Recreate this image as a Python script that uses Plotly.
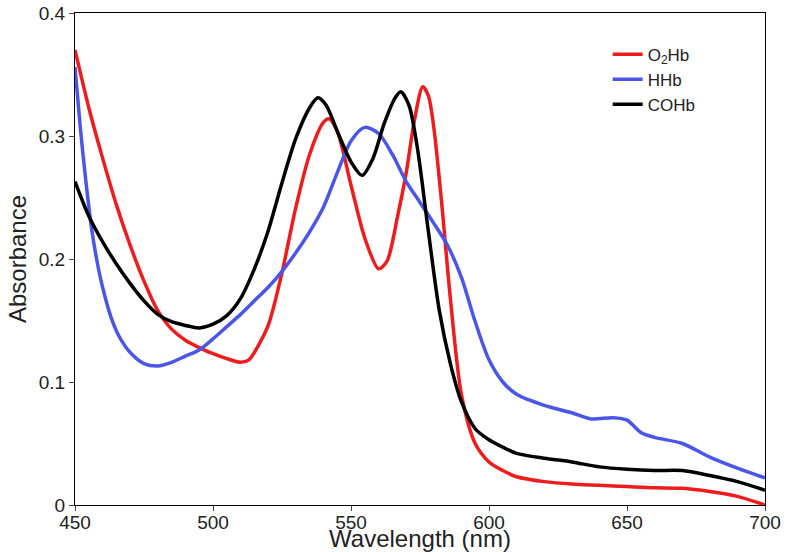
import plotly.graph_objects as go

# O2Hb
wl_o2 = [450, 455, 460, 465, 470, 475, 480, 485, 490, 495, 500, 505, 510, 513, 516, 520, 525,
         530, 535, 540, 542, 545, 550, 555, 560, 563, 567, 570, 573, 576, 578, 580, 583,
         586, 590, 595, 600, 605, 610, 620, 630, 640, 650, 660, 670, 680, 690, 700]
abs_o2 = [0.370, 0.323, 0.282, 0.244, 0.211, 0.182, 0.158, 0.143, 0.134, 0.128, 0.123, 0.119,
          0.116, 0.118, 0.128, 0.146, 0.189, 0.242, 0.285, 0.311, 0.314, 0.304, 0.260, 0.217,
          0.192, 0.198, 0.236, 0.270, 0.313, 0.340, 0.333, 0.307, 0.242, 0.168, 0.090, 0.050,
          0.035, 0.028, 0.023, 0.019, 0.017, 0.016, 0.015, 0.014, 0.0136, 0.011, 0.007, 0.000]

# HHb
wl_h = [450, 452, 454, 456, 458, 460, 463, 466, 470, 475, 480, 485, 490, 495, 500, 505, 510,
        515, 520, 525, 530, 535, 540, 545, 550, 555, 560, 565, 570, 575, 580, 585, 590, 595,
        600, 605, 610, 620, 630, 637, 645, 650, 655, 660, 670, 680, 690, 700]
abs_h = [0.356, 0.305, 0.262, 0.225, 0.198, 0.177, 0.153, 0.137, 0.124, 0.115, 0.113, 0.116,
         0.121, 0.126, 0.135, 0.145, 0.155, 0.166, 0.177, 0.190, 0.205, 0.222, 0.242, 0.270,
         0.296, 0.307, 0.302, 0.285, 0.263, 0.246, 0.229, 0.211, 0.185, 0.149, 0.118, 0.100,
         0.090, 0.081, 0.075, 0.070, 0.071, 0.069, 0.059, 0.055, 0.050, 0.039, 0.030, 0.022]

# COHb
wl_co = [450, 455, 460, 465, 470, 475, 480, 485, 490, 495, 500, 505, 510, 515, 520, 525, 530,
         535, 538, 541, 545, 550, 554, 558, 562, 566, 568, 571, 574, 578, 582, 586, 590, 595,
         600, 605, 610, 620, 630, 640, 650, 660, 670, 680, 690, 700]
abs_co = [0.263, 0.235, 0.214, 0.196, 0.180, 0.166, 0.155, 0.149, 0.146, 0.144, 0.147, 0.154,
          0.168, 0.192, 0.223, 0.262, 0.298, 0.323, 0.331, 0.325, 0.304, 0.279, 0.268, 0.282,
          0.310, 0.331, 0.336, 0.325, 0.291, 0.223, 0.158, 0.115, 0.084, 0.062, 0.053, 0.047,
          0.042, 0.038, 0.035, 0.031, 0.029, 0.028, 0.028, 0.024, 0.019, 0.012]

x_ticks = [450, 500, 550, 600, 650, 700]
y_ticks = [0, 0.1, 0.2, 0.3, 0.4]
y_labels = ["0", "0.1", "0.2", "0.3", "0.4"]

fig = go.Figure()
fig.add_trace(go.Scatter(x=wl_o2, y=abs_o2, mode="lines", name="O<sub>2</sub>Hb",
                         line=dict(color="#ee1c1c", width=3.5, shape="spline", smoothing=0.8)))
fig.add_trace(go.Scatter(x=wl_h, y=abs_h, mode="lines", name="HHb",
                         line=dict(color="#4a56e8", width=3.5, shape="spline", smoothing=0.8)))
fig.add_trace(go.Scatter(x=wl_co, y=abs_co, mode="lines", name="COHb",
                         line=dict(color="black", width=3.5, shape="spline", smoothing=0.8)))

fig.update_layout(
    width=789, height=552,
    margin=dict(l=75, r=24, t=13, b=47, autoexpand=False),
    paper_bgcolor="white", plot_bgcolor="white",
    font=dict(family="Liberation Sans, Arial, sans-serif", color="#222", size=20),
    showlegend=True,
    legend=dict(x=0.772, y=0.952, xanchor="left", yanchor="top",
                font=dict(size=17), bgcolor="rgba(0,0,0,0)",
                tracegroupgap=0, itemwidth=30),
)
fig.update_xaxes(
    range=[450, 700], tickvals=x_ticks, ticks="outside", ticklen=5,
    showline=True, linecolor="black", linewidth=1, mirror=True,
    showgrid=False, zeroline=False, automargin=False, ticklabeloverflow="allow",
    ticklabelstandoff=-5, tickfont=dict(size=19),
    title=dict(text="Wavelength (nm)", standoff=5),
)
fig.update_yaxes(
    range=[0, 0.4], tickvals=y_ticks, ticktext=y_labels, ticks="outside", ticklen=5,
    showline=True, linecolor="black", linewidth=1, mirror=True,
    showgrid=False, zeroline=False, automargin=False, ticklabeloverflow="allow",
    tickfont=dict(size=19),
    title=dict(text="Absorbance", standoff=5),
)

# drop the default 8px body margin so the figure fills the window
fig.write_html("out.html", config={"displayModeBar": False},
               post_script="document.body.style.margin = '0';")
